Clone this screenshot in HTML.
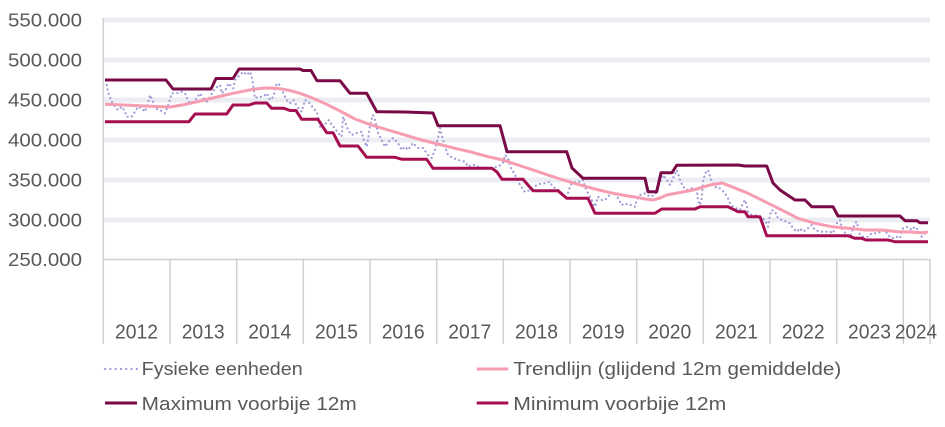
<!DOCTYPE html>
<html><head><meta charset="utf-8"><style>
html,body{margin:0;padding:0;background:#fff;}
svg{display:block;}
text{font-family:"Liberation Sans",sans-serif;fill:#595959;}
</style></head><body>
<svg width="945" height="427" viewBox="0 0 945 427" xmlns="http://www.w3.org/2000/svg">
<rect width="945" height="427" fill="#fff"/>
<!-- gridlines -->
<g stroke="#ececf3" stroke-width="5">
<line x1="104" y1="20" x2="930" y2="20"/>
<line x1="104" y1="60" x2="930" y2="60"/>
<line x1="104" y1="100" x2="930" y2="100"/>
<line x1="104" y1="140" x2="930" y2="140"/>
<line x1="104" y1="180" x2="930" y2="180"/>
<line x1="104" y1="220" x2="930" y2="220"/>
</g>
<!-- axes -->
<g stroke="#cfcfcf" stroke-width="1.5">
<line x1="103.3" y1="18" x2="103.3" y2="344"/>
<line x1="103.3" y1="259.5" x2="930" y2="259.5"/>
<line x1="170" y1="259.5" x2="170" y2="344"/>
<line x1="236.7" y1="259.5" x2="236.7" y2="344"/>
<line x1="303.3" y1="259.5" x2="303.3" y2="344"/>
<line x1="370" y1="259.5" x2="370" y2="344"/>
<line x1="436.7" y1="259.5" x2="436.7" y2="344"/>
<line x1="503.3" y1="259.5" x2="503.3" y2="344"/>
<line x1="570" y1="259.5" x2="570" y2="344"/>
<line x1="636.7" y1="259.5" x2="636.7" y2="344"/>
<line x1="703.3" y1="259.5" x2="703.3" y2="344"/>
<line x1="770" y1="259.5" x2="770" y2="344"/>
<line x1="836.7" y1="259.5" x2="836.7" y2="344"/>
<line x1="903.3" y1="259.5" x2="903.3" y2="344"/>
<line x1="930" y1="259.5" x2="930" y2="344"/>
</g>
<!-- y labels -->
<g font-size="18" text-anchor="end">
<text x="82" y="26.5" textLength="74" lengthAdjust="spacingAndGlyphs">550.000</text>
<text x="82" y="66.5" textLength="74" lengthAdjust="spacingAndGlyphs">500.000</text>
<text x="82" y="106.5" textLength="74" lengthAdjust="spacingAndGlyphs">450.000</text>
<text x="82" y="146.5" textLength="74" lengthAdjust="spacingAndGlyphs">400.000</text>
<text x="82" y="186.5" textLength="74" lengthAdjust="spacingAndGlyphs">350.000</text>
<text x="82" y="226.5" textLength="74" lengthAdjust="spacingAndGlyphs">300.000</text>
<text x="82" y="266" textLength="74" lengthAdjust="spacingAndGlyphs">250.000</text>
</g>
<!-- x labels -->
<g font-size="20">
<text x="115" y="338.3" textLength="43" lengthAdjust="spacingAndGlyphs">2012</text>
<text x="181.7" y="338.3" textLength="43" lengthAdjust="spacingAndGlyphs">2013</text>
<text x="248.3" y="338.3" textLength="43" lengthAdjust="spacingAndGlyphs">2014</text>
<text x="315" y="338.3" textLength="43" lengthAdjust="spacingAndGlyphs">2015</text>
<text x="381.7" y="338.3" textLength="43" lengthAdjust="spacingAndGlyphs">2016</text>
<text x="448.3" y="338.3" textLength="43" lengthAdjust="spacingAndGlyphs">2017</text>
<text x="515" y="338.3" textLength="43" lengthAdjust="spacingAndGlyphs">2018</text>
<text x="581.7" y="338.3" textLength="43" lengthAdjust="spacingAndGlyphs">2019</text>
<text x="648.3" y="338.3" textLength="43" lengthAdjust="spacingAndGlyphs">2020</text>
<text x="715" y="338.3" textLength="43" lengthAdjust="spacingAndGlyphs">2021</text>
<text x="781.7" y="338.3" textLength="43" lengthAdjust="spacingAndGlyphs">2022</text>
<text x="848" y="338.3" textLength="43" lengthAdjust="spacingAndGlyphs">2023</text>
<text x="895" y="338.3" textLength="42" lengthAdjust="spacingAndGlyphs">2024</text>
</g>
<!-- dotted series -->
<polyline fill="none" stroke="#a19cd9" stroke-width="2.2" stroke-linecap="round" stroke-linejoin="round" stroke-dasharray="0.1 4.4" points="
106.7,85 108,91.7 111.7,101.7 115,106.7 118,110 121.7,106.7 125,111.7 126.7,116.7 131.7,116.7 135,111.7 138,106.7 141.7,108.3 145,111.7 148.3,101.7 150,95 153,101.7 155,108.3 160,110 165,113.3 168.3,105 171.7,93.3 176.7,93.3 181.7,91.7 185,93.3 188.3,101.7 191.7,103.3 196.7,98.3 200,93.3 203.3,98.3 206.7,101.7 210,96.7 215,88.3 220,85 221.7,93.3 226.7,88.3 228.3,83.3 233.3,88.3 235,80 240,75 243.3,71.7 246.7,75 250,71.7 251.7,76.7 253.3,86.7 255,98.3 258.3,96.7 263.3,96.7 266.7,93.3 270,100 273.3,96.7 276.7,83.3 280,85 283.3,93.3 286.7,100 290,103.3 293.3,100 298.3,108.3 301.7,111.7 305,100 308.3,101.7 315,110 316.7,111.7 318.3,118.3 320,126.7 323.3,128.3 326.7,121.7 329,120 331.7,125 335,128.3 338,133 341.7,136.7 343,116.7 345,121.7 348,130 351.7,135 356.7,133 361.7,131.7 363,138 366.7,146.7 368,140 370,125 373,115 375,120 378,133 381.7,140 385,146.7 390,140 393,138 398,143 401.7,150 405,146.7 408,150 413,143 418,148 423,148 428,155 431.7,158 435,150 438,138 440,128 441.7,135 445,146.7 448,155 453,158 458,160 465,161.7 468,166.7 471.7,165 475,165 478,166.7 485,168 491.7,168 498,166.7 503,163 505,155 508,158 511,168 515,175 520,185 525,192 530,190 536.7,185 541.7,183.3 545,183.3 550,181.7 551.7,185 555,188.3 560,191 565,196 568,193 570,186.7 571.7,183.3 576.7,181.7 581.7,181.7 583,180 585,186.7 588,193 591.7,200 595,206.7 598,196.7 601.7,200 605,200 608,196.7 613,191.7 618,198 621.7,205 625,203.3 628,205 631.7,205 635,206.7 636.7,200 640,195 645,193.3 650,196.7 655,195 658,186.7 663,175 666.7,180 670,185 673,178.3 676.7,170 678,173.3 680,180 683,186.7 686.7,190 691.7,188.3 696.7,190 698,200 700,205 701.7,198.3 703,181.7 705,173.3 708,170 711.7,181.7 716.7,188.3 720,188.3 725,193.3 728,198.3 730,203.3 733,206.7 740,210 743,203.3 745,200 746.7,205 748,211.7 751.7,215 755,215 760,216.7 765,220 768,226.7 770,215 771.7,210 775,211.7 778,218.3 781.7,220 786.7,221.7 790,223.3 793,228.3 796.7,231.7 800,228.3 803,231.7 808,228.3 811.7,225 815,230 820,231.7 825,231.7 830,231.7 833,233.3 836.7,223.3 840,220 841.7,228.3 846.7,235 850,236.7 855,223.3 856.7,221.7 860,235 863,236.7 868,236.7 871.7,233.3 875,233.3 881.7,231.7 885,230 888,235 891.7,238.3 896.7,236.7 900,238.3 903,228.3 908,226.7 911.7,230 915,226.7 918,230 921.7,236.7 925,233.3 926.7,230"/>
<!-- trend -->
<polyline fill="none" stroke="#f79db2" stroke-width="3" stroke-linejoin="round" points="
105,104.3 125,105 150,106.3 170,107 185,104.5 200,101 215,97.5 233,93.3 253,89.3 265,88 277,88.3 290,90.5 300,93.3 310,97 317,100 325,103.5 340,111 355,119 370,124.5 388,130 405,135 421.7,140 438,144 455,148.3 471,152 488,156.7 503,160 518,165 543,173.3 560,179 576.7,184 593,188.5 610,192.7 625,195.5 636.7,197.3 645,199 653,200 660,198 666.7,195 680,192.5 693,190 710,185 722,183 731.7,186.7 748,193.3 765,201.7 781.7,210 798,218.3 815,223.3 831.7,226.7 848,228.3 865,230 881.7,230 898,231.7 910,232 921.7,232.7 928,232"/>
<!-- max -->
<polyline fill="none" stroke="#7a0a47" stroke-width="3" stroke-linejoin="round" points="
105,80 166,80 173,89 211,89 216,78.5 233,78.5 239,69 300,69 303,70.5 311,70.5 317,80.7 340,80.7 350,93.3 366.7,93.3 376.7,111.7 405,112 433,113 438,125.7 500,125.7 507,151.7 566.7,151.7 572,168 583,178.3 645,178.3 648,191.7 656.7,191.7 661,172.7 672,172.7 676.7,165.3 738,165 745,166 766.7,166 773,183 780,190 795,200 805,200 811.7,206.7 833,206.7 838,216 900,216 905,220.7 916.7,220.7 920,222.7 928,222.7"/>
<!-- min -->
<polyline fill="none" stroke="#a50f51" stroke-width="3" stroke-linejoin="round" points="
105,121.7 189,121.7 195,114 226.7,114 233,105 249,105 255,103 266.7,103 271.7,108.3 284,108.3 290,110.5 296,110.5 301.7,119.3 318,119.3 326.7,132.7 333,132.7 340,146 358,146 366.7,157.3 395,157.3 402,159.3 426.7,159.3 433,168.3 492,168.3 497,172 502,179.3 523,179.3 533,190.7 558,190.7 566.7,198.3 588,198.3 595,213.3 655,213.3 661.7,209 695,209 700,206.7 728,206.7 738,211.7 745,211.7 748,216.7 760,216.7 766.7,235.7 848,235.7 855,238.3 861.7,238.3 866,240 888,240 895,241.7 928,241.7"/>
<!-- legend -->
<line x1="105" y1="369" x2="137" y2="369" stroke="#a19cd9" stroke-width="2.2" stroke-linecap="round" stroke-dasharray="0.1 5.2"/>
<text x="141.7" y="375" font-size="18.5" textLength="161" lengthAdjust="spacingAndGlyphs">Fysieke eenheden</text>
<line x1="476.7" y1="369" x2="508.3" y2="369" stroke="#f79db2" stroke-width="3"/>
<text x="513.3" y="375" font-size="18.5" textLength="328" lengthAdjust="spacingAndGlyphs">Trendlijn (glijdend 12m gemiddelde)</text>
<line x1="105" y1="403" x2="137" y2="403" stroke="#7a0a47" stroke-width="3"/>
<text x="141.7" y="410" font-size="18.5" textLength="215" lengthAdjust="spacingAndGlyphs">Maximum voorbije 12m</text>
<line x1="476.7" y1="403" x2="508.3" y2="403" stroke="#a50f51" stroke-width="3"/>
<text x="513.3" y="410" font-size="18.5" textLength="213" lengthAdjust="spacingAndGlyphs">Minimum voorbije 12m</text>
</svg>
</body></html>
